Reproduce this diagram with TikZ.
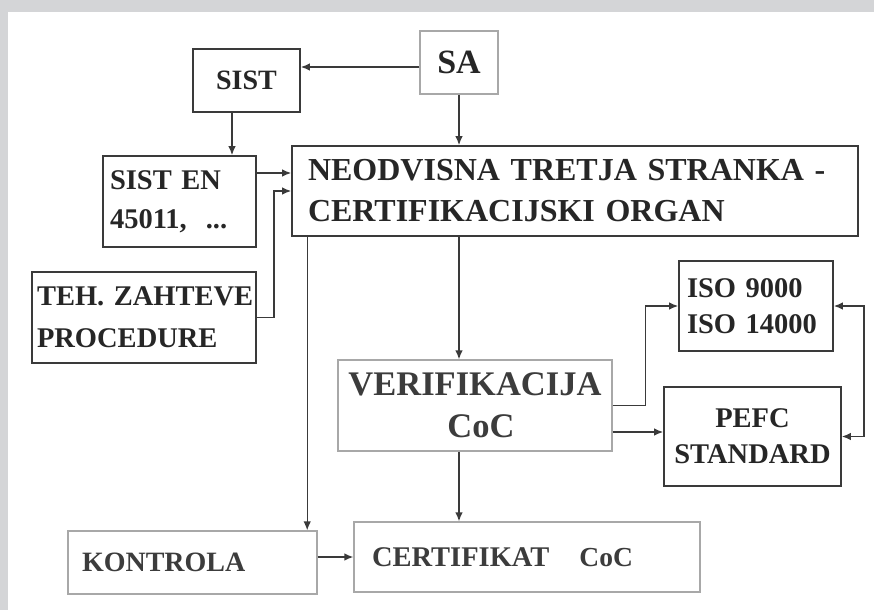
\documentclass[tikz,border=0pt]{standalone}
\usepackage{fontspec}
\setmainfont{Liberation Serif}
\usetikzlibrary{arrows.meta,calc}
\definecolor{frame}{HTML}{D4D5D7}
\definecolor{ink}{HTML}{262626}
\definecolor{lightink}{HTML}{3C3C3C}
\definecolor{darkline}{HTML}{3A3A3A}
\definecolor{lightline}{HTML}{A8A8A8}
\tikzset{
  darkbox/.style={draw=darkline, line width=1.6pt, inner sep=0pt, text=ink, font=\bfseries},
  lightbox/.style={draw=lightline, line width=1.2pt, inner sep=0pt, text=lightink, font=\bfseries},
  arr/.style={draw=darkline, line width=1.4pt, -{Latex[length=9pt,width=7.5pt]}},
  darr/.style={draw=darkline, line width=1.4pt, {Latex[length=9pt,width=7.5pt]}-{Latex[length=9pt,width=7.5pt]}},
}
\begin{document}
\begin{tikzpicture}[x=1pt,y=-1pt]
\useasboundingbox (0,0) rectangle (874,610);
\fill[white] (0,0) rectangle (874,610);
\fill[frame] (0,0) rectangle (874,12);
\fill[frame] (0,0) rectangle (8,610);

\node[lightbox, minimum width=78pt, minimum height=63pt, font=\bfseries\fontsize{34}{38}\selectfont, text=ink] (sa) at (459,62.5) {SA};
\node[darkbox, minimum width=107pt, minimum height=63pt, font=\bfseries\fontsize{28}{32}\selectfont] (sist) at (246.5,80.5) {SIST};
\node[darkbox, minimum width=153pt, minimum height=91pt, text width=139pt, align=left, font=\bfseries\fontsize{28.5}{39}\selectfont] (sisten) at (179.5,201.5) {SIST EN\\45011,\ \ ...};
\node[darkbox, minimum width=566pt, minimum height=90pt, text width=534pt, align=left, font=\bfseries\fontsize{32}{41}\selectfont] (neo) at (575,191) {NEODVISNA TRETJA STRANKA -\\CERTIFIKACIJSKI ORGAN};
\node[darkbox, minimum width=224pt, minimum height=91pt, text width=214pt, align=left, font=\bfseries\fontsize{28.5}{42}\selectfont] (teh) at (144,317.5) {\mbox{TEH. ZAHTEVE}\\PROCEDURE};
\node[lightbox, minimum width=274pt, minimum height=91pt, align=center, font=\bfseries\fontsize{34.5}{42}\selectfont] (verif) at (475,405.5) {VERIFIKACIJA\\\hspace*{12pt}CoC};
\node[darkbox, minimum width=154pt, minimum height=90pt, text width=138pt, align=left, font=\bfseries\fontsize{28.5}{36}\selectfont] (iso) at (756,306) {ISO 9000\\ISO 14000};
\node[darkbox, minimum width=177pt, minimum height=99pt, align=center, font=\bfseries\fontsize{28.5}{36}\selectfont] (pefc) at (752.5,436.5) {PEFC\\STANDARD};
\node[lightbox, minimum width=249pt, minimum height=63pt, text width=221pt, align=left, font=\bfseries\fontsize{28}{32}\selectfont] (kon) at (192.5,562.5) {KONTROLA};
\node[lightbox, minimum width=346pt, minimum height=70pt, text width=310pt, align=left, font=\bfseries\fontsize{28.5}{32}\selectfont] (cert) at (527,557) {CERTIFIKAT\hspace{30pt}{\fontsize{27.5}{32}\selectfont CoC}};

\draw[arr] ([yshift=-4.5pt]sa.west) -- ([yshift=-4.5pt]sa.west -| sist.east);
\draw[arr] (sa.south) -- (sa.south |- neo.north);
\draw[arr] ([xshift=-14.5pt]sist.south) -- ([xshift=-14.5pt]sist.south |- sisten.north);
\draw[arr] ([yshift=28.5pt]sisten.east) -- ([yshift=28.5pt]sisten.east -| neo.west);
\draw[arr] (teh.east) -- ++(17,0) |- (neo.west);
\draw[arr] ([xshift=16pt]neo.south west) -- ([xshift=16pt]neo.south west |- kon.north);
\draw[arr] (sa.south |- neo.south) -- (sa.south |- verif.north);
\draw[arr] (sa.south |- verif.south) -- (sa.south |- cert.north);
\draw[arr] (verif.east) -- ++(33,0) |- (iso.west);
\draw[arr] ([yshift=-26.5pt]verif.east) -- ([yshift=-26.5pt]verif.east -| pefc.west);
\draw[darr] (iso.east) -- ++(30,0) |- (pefc.east);
\draw[arr] (kon.east |- cert.west) -- (cert.west);
\end{tikzpicture}
\end{document}
